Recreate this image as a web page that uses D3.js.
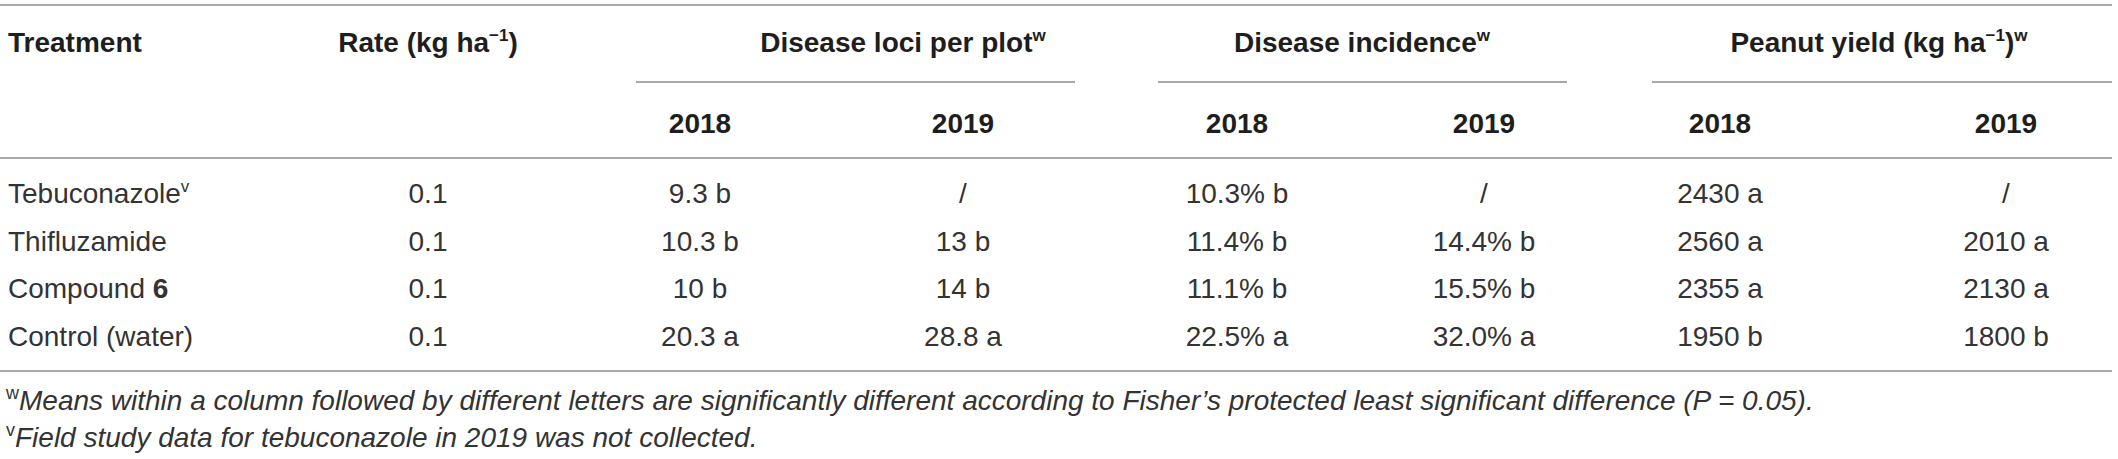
<!DOCTYPE html>
<html>
<head>
<meta charset="utf-8">
<script src="https://cdn.jsdelivr.net/npm/d3@7"></script>
<style>
    body { margin: 0; background: #fff; }
    svg { display: block; font-family: "Liberation Sans", Arial, Helvetica, sans-serif; }
    .rule { stroke: #8c8c8c; stroke-width: 1.5; }
    .head { font-weight: bold; font-size: 28px; fill: #1e1e1e; }
    .cell { font-size: 28px; fill: #333; }
    .note { font-size: 28px; fill: #333; font-style: italic; }
</style>
</head>
<body>
<div id="table"></div>
<script>
// Table data

const treatments = ["Tebuconazole", "Thifluzamide", "Compound 6", "Control (water)"];
const rates = ["0.1", "0.1", "0.1", "0.1"];
const lociPerPlot2018 = ["9.3 b", "10.3 b", "10 b", "20.3 a"];
const lociPerPlot2019 = ["/", "13 b", "14 b", "28.8 a"];
const incidence2018 = ["10.3% b", "11.4% b", "11.1% b", "22.5% a"];
const incidence2019 = ["/", "14.4% b", "15.5% b", "32.0% a"];
const yield2018 = ["2430 a", "2560 a", "2355 a", "1950 b"];
const yield2019 = ["/", "2010 a", "2130 a", "1800 b"];
const years = ["2018", "2019"];

const columns = [
    { key: "rate", values: rates },
    { key: "loci18", values: lociPerPlot2018 },
    { key: "loci19", values: lociPerPlot2019 },
    { key: "inc18", values: incidence2018 },
    { key: "inc19", values: incidence2019 },
    { key: "yld18", values: yield2018 },
    { key: "yld19", values: yield2019 }
];

const groups = [
    { title: [{ t: "Disease loci per plot" }, { t: "w", sup: true }], cols: ["loci18", "loci19"], x: 903, x1: 636, x2: 1075 },
    { title: [{ t: "Disease incidence" }, { t: "w", sup: true }], cols: ["inc18", "inc19"], x: 1362, x1: 1158, x2: 1567 },
    { title: [{ t: "Peanut yield (kg ha" }, { t: "\u22121", sup: true }, { t: ")" }, { t: "w", sup: true }], cols: ["yld18", "yld19"], x: 1879, x1: 1652, x2: 2112 }
];

const footnotes = [
    [{ t: "w", sup: true }, { t: "Means within a column followed by different letters are significantly different according to Fisher\u2019s protected least significant difference (P = 0.05)." }],
    [{ t: "v", sup: true }, { t: "Field study data for tebuconazole in 2019 was not collected." }]
];

const width = 2118;
const height = 459;

const svg = d3.select("#table")
    .append("svg")
    .attr("width", width)
    .attr("height", height)
    .attr("viewBox", `0 0 ${width} ${height}`);

const colX = d3.scaleOrdinal()
    .domain(columns.map(c => c.key))
    .range([428, 700, 963, 1237, 1484, 1720, 2006]);

const rowY = d3.scalePoint()
    .domain(treatments)
    .range([203, 346]);

// writes text pieces, superscripts are raised and smaller
const writeRich = (sel, parts, supSize) => {
    let shifted = false;
    parts.forEach(p => {
        const ts = sel.append("tspan").text(p.t);
        if (p.sup) {
            ts.attr("font-size", supSize).attr("dy", shifted ? 0 : -11);
            shifted = true;
        } else if (shifted) {
            ts.attr("dy", 11);
            shifted = false;
        }
        if (p.bold) ts.attr("font-weight", "bold");
        if (p.plain) ts.attr("font-style", "normal");
    });
};

// rules
const rules = [
    { x1: 0, x2: 2112, y: 5 },
    { x1: 0, x2: 2112, y: 158 },
    { x1: 0, x2: 2112, y: 371 }
];
svg.selectAll("line.rule-main")
    .data(rules)
    .join("line")
    .attr("class", "rule")
    .attr("x1", d => d.x1)
    .attr("x2", d => d.x2)
    .attr("y1", d => d.y)
    .attr("y2", d => d.y);

svg.selectAll("line.rule-group")
    .data(groups)
    .join("line")
    .attr("class", "rule")
    .attr("x1", d => d.x1)
    .attr("x2", d => d.x2)
    .attr("y1", 82)
    .attr("y2", 82);

// header row 1
svg.append("text")
    .attr("class", "head")
    .attr("x", 8)
    .attr("y", 52)
    .text("Treatment");

const rateHead = svg.append("text")
    .attr("class", "head")
    .attr("x", colX("rate"))
    .attr("y", 52)
    .attr("text-anchor", "middle");
writeRich(rateHead, [{ t: "Rate (kg ha" }, { t: "\u22121", sup: true }, { t: ")" }], 17);

groups.forEach(g => {
    const t = svg.append("text")
        .attr("class", "head")
        .attr("x", g.x)
        .attr("y", 52)
        .attr("text-anchor", "middle");
    writeRich(t, g.title, 17);
});

// header row 2
groups.forEach(g => {
    svg.selectAll(null)
        .data(g.cols)
        .join("text")
        .attr("class", "head")
        .attr("x", d => colX(d))
        .attr("y", 133)
        .attr("text-anchor", "middle")
        .text((d, i) => years[i]);
});

// treatment names
svg.selectAll("text.name")
    .data(treatments)
    .join("text")
    .attr("class", "cell name")
    .attr("x", 8)
    .attr("y", d => rowY(d))
    .each(function (d, i) {
        const sel = d3.select(this);
        if (i === 0) writeRich(sel, [{ t: "Tebuconazole" }, { t: "v", sup: true }], 17);
        else if (d === "Compound 6") writeRich(sel, [{ t: "Compound " }, { t: "6", bold: true }], 17);
        else sel.text(d);
    });

// value cells
columns.forEach(c => {
    svg.selectAll(null)
        .data(c.values)
        .join("text")
        .attr("class", "cell")
        .attr("x", colX(c.key))
        .attr("y", (d, i) => rowY(treatments[i]))
        .attr("text-anchor", "middle")
        .text(d => d);
});

// footnotes
svg.selectAll("text.note")
    .data(footnotes)
    .join("text")
    .attr("class", "note")
    .attr("x", 6)
    .attr("y", (d, i) => [410, 447][i])
    .each(function (d) {
        const parts = d.map(p => p.sup ? { ...p, plain: true } : p);
        writeRich(d3.select(this), parts, 18);
    });
</script>
</body>
</html>
